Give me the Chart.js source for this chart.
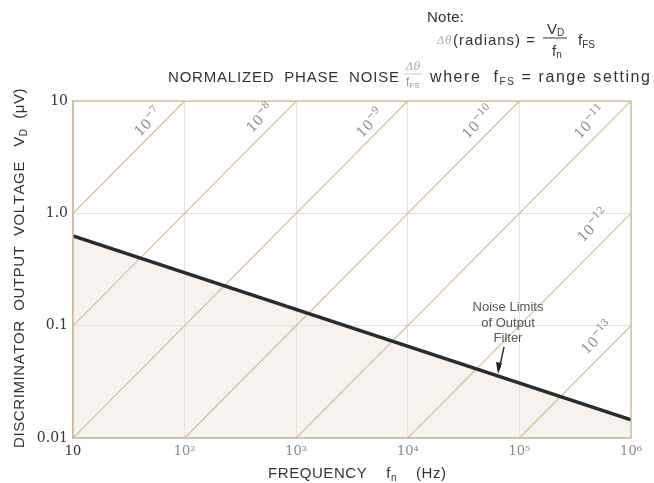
<!DOCTYPE html>
<html>
<head>
<meta charset="utf-8">
<script src="https://cdn.jsdelivr.net/npm/chart.js@4.4.1/dist/chart.umd.min.js"></script>
<style>
html,body{margin:0;padding:0;background:#fff;}
#wrap{width:654px;height:483px;position:relative;}
</style>
</head>
<body>
<div id="wrap"><canvas id="c" width="654" height="483"></canvas></div>
<script>
// ---- data ----
const xTicks = [10, 100, 1000, 10000, 100000, 1000000];
const xTickLabels = ['10', '10²', '10³', '10⁴', '10⁵', '10⁶'];
const yTicks = [0.01, 0.1, 1, 10];
const yTickLabels = ['0.01', '0.1', '1.0', '10'];

// constant normalized phase-noise lines (Δθ/fFS = 10^exp)
const phaseExponents = ['-7', '-8', '-9', '-10', '-11', '-12', '-13'];
const lineStartX = [10, 10, 10, 100, 1000, 10000, 100000];
const lineStartY = [1, 0.1, 0.01, 0.01, 0.01, 0.01, 0.01];
const lineEndX = [100, 1000, 10000, 100000, 1000000, 1000000, 1000000];
const lineEndY = [10, 10, 10, 10, 10, 1, 0.1];
const labelX = [47, 474, 4580, 42600, 429000, 457000, 496000];
const labelY = [6.5, 7.05, 6.36, 6.49, 6.49, 0.78, 0.078];

// noise limits of output filter
const noiseFreq = [10, 1000000];
const noiseVolt = [0.63, 0.0145];

// ---- build datasets ----
const TAN = '#cdbb98';
const datasets = [];
datasets.push({
  label: 'Noise Limits of Output Filter',
  data: noiseFreq.map((f, i) => ({x: f, y: noiseVolt[i]})),
  borderColor: '#2b2b2b',
  borderWidth: 3.4,
  pointRadius: 0,
  fill: 'start',
  backgroundColor: 'rgba(236,229,218,0.45)',
  order: 0
});
phaseExponents.forEach((e, i) => {
  datasets.push({
    label: '10^' + e,
    data: [{x: lineStartX[i], y: lineStartY[i]}, {x: lineEndX[i], y: lineEndY[i]}],
    borderColor: TAN,
    borderWidth: 1.1,
    pointRadius: 0,
    fill: false,
    order: 1
  });
});

// draw rich text segments, spreading characters so the run spans targetW
function drawSegs(ctx, segs, x, y, targetW) {
  let natural = 0, n = 0;
  segs.forEach(s => { ctx.font = s.font; natural += ctx.measureText(s.t).width; n += s.t.length; });
  const extra = targetW ? (targetW - natural) / Math.max(1, n - 1) : 0;
  let cx = x;
  segs.forEach(s => {
    ctx.font = s.font;
    ctx.fillStyle = s.color;
    if (!targetW) {
      ctx.fillText(s.t, cx, y + (s.dy || 0));
      cx += ctx.measureText(s.t).width;
    } else {
      for (const ch of s.t) {
        ctx.fillText(ch, cx, y + (s.dy || 0));
        cx += ctx.measureText(ch).width + extra;
      }
    }
  });
  return cx;
}
function segsWidth(ctx, segs) {
  let w = 0;
  segs.forEach(s => { ctx.font = s.font; w += ctx.measureText(s.t).width; });
  return w;
}

const SANS = '"Liberation Sans", Arial, sans-serif';
const SERIF = '"DejaVu Serif", serif';
const F15 = '15px ' + SANS;
const F16 = '16px ' + SANS;
const S10 = '10px ' + SANS;
const INK = '#333';

const decor = {
  id: 'decor',
  afterDatasetsDraw(chart) {
    const ctx = chart.ctx;
    const xs = chart.scales.x, ys = chart.scales.y;
    const a = chart.chartArea;
    ctx.save();
    // frame
    ctx.strokeStyle = TAN;
    ctx.lineWidth = 1.3;
    ctx.strokeRect(a.left, a.top, a.right - a.left, a.bottom - a.top);

    // diagonal labels
    phaseExponents.forEach((e, i) => {
      const px = xs.getPixelForValue(labelX[i]);
      const py = ys.getPixelForValue(labelY[i]);
      const x0 = xs.getPixelForValue(lineStartX[i]), y0 = ys.getPixelForValue(lineStartY[i]);
      const x1 = xs.getPixelForValue(lineEndX[i]), y1 = ys.getPixelForValue(lineEndY[i]);
      const ang = Math.atan2(y1 - y0, x1 - x0);
      ctx.save();
      ctx.translate(px, py);
      ctx.rotate(ang);
      ctx.textBaseline = 'alphabetic';
      const segs = [
        {t: '10', font: '14px ' + SERIF, color: '#8c8c8c'},
        {t: '−' + e.slice(1), font: '10px ' + SERIF, color: '#8c8c8c', dy: -7}
      ];
      const w = segsWidth(ctx, segs);
      drawSegs(ctx, segs, -w / 2, 5);
      ctx.restore();
    });

    // noise limits annotation
    ctx.fillStyle = '#555';
    ctx.font = '13px ' + SANS;
    ctx.textAlign = 'center';
    ctx.textBaseline = 'middle';
    ctx.fillText('Noise Limits', 508, 307);
    ctx.fillText('of Output', 508, 323);
    ctx.fillText('Filter', 508, 338);
    ctx.strokeStyle = '#333';
    ctx.lineWidth = 1.5;
    ctx.beginPath();
    ctx.moveTo(504, 347);
    ctx.lineTo(499, 370);
    ctx.stroke();
    ctx.fillStyle = '#222';
    ctx.beginPath();
    ctx.moveTo(498, 374);
    ctx.lineTo(496, 362);
    ctx.lineTo(502, 363);
    ctx.closePath();
    ctx.fill();
    ctx.restore();

    // ---- outer texts ----
    ctx.save();
    ctx.textAlign = 'left';
    ctx.textBaseline = 'alphabetic';
    // title
    drawSegs(ctx, [{t: 'NORMALIZED  PHASE  NOISE', font: F15, color: INK}], 168, 82, 231);
    // fraction Δθ / fFS
    ctx.fillStyle = '#aaa';
    ctx.font = 'italic 11px ' + SERIF;
    ctx.textAlign = 'center';
    ctx.fillText('Δθ', 413, 70);
    ctx.strokeStyle = '#bbb';
    ctx.lineWidth = 0.8;
    ctx.beginPath(); ctx.moveTo(404, 74); ctx.lineTo(422, 74); ctx.stroke();
    ctx.textAlign = 'left';
    drawSegs(ctx, [
      {t: 'f', font: '12px ' + SANS, color: '#999'},
      {t: 'FS', font: '8px ' + SANS, color: '#999', dy: 2}
    ], 406, 86);

    // note
    drawSegs(ctx, [{t: 'Note:', font: F15, color: INK}], 427, 22, 37);
    ctx.fillStyle = '#aaa';
    ctx.font = 'italic 11px ' + SERIF;
    ctx.fillText('Δθ', 437, 44);
    drawSegs(ctx, [{t: '(radians) =', font: F15, color: INK}], 453, 45, 82);
    // V_D / f_n
    drawSegs(ctx, [
      {t: 'V', font: F15, color: INK},
      {t: 'D', font: S10, color: INK, dy: 2}
    ], 547, 34);
    ctx.strokeStyle = '#333';
    ctx.lineWidth = 1;
    ctx.beginPath(); ctx.moveTo(543, 38); ctx.lineTo(567, 38); ctx.stroke();
    drawSegs(ctx, [
      {t: 'f', font: F15, color: INK},
      {t: 'n', font: S10, color: INK, dy: 2}
    ], 552, 56);
    drawSegs(ctx, [
      {t: 'f', font: F15, color: INK},
      {t: 'FS', font: S10, color: INK, dy: 3}
    ], 578, 45);
    // where line
    drawSegs(ctx, [
      {t: 'where  f', font: F16, color: INK},
      {t: 'FS', font: S10, color: INK, dy: 3},
      {t: ' = range setting', font: F16, color: INK}
    ], 430, 82, 220);

    // x-axis title
    drawSegs(ctx, [
      {t: 'FREQUENCY    f', font: F15, color: INK},
      {t: 'n', font: S10, color: INK, dy: 3},
      {t: '    (Hz)', font: F15, color: INK}
    ], 268, 478, 178);

    // y-axis title
    ctx.translate(24, 448);
    ctx.rotate(-Math.PI / 2);
    drawSegs(ctx, [
      {t: 'DISCRIMINATOR  OUTPUT  VOLTAGE   V', font: F15, color: INK},
      {t: 'D', font: S10, color: INK, dy: 3},
      {t: '  (μV)', font: F15, color: INK}
    ], 0, 0, 356);
    ctx.restore();
  }
};

new Chart(document.getElementById('c'), {
  type: 'line',
  data: {datasets},
  options: {
    responsive: false,
    animation: false,
    devicePixelRatio: 1,
    layout: {padding: {top: 101, right: 23, left: 0, bottom: 0}},
    plugins: {
      legend: {display: false},
      tooltip: {enabled: false},
      filler: {drawTime: 'beforeDatasetsDraw'}
    },
    scales: {
      x: {
        type: 'logarithmic',
        min: 10, max: 1000000,
        afterBuildTicks: s => { s.ticks = xTicks.map(v => ({value: v})); },
        afterFit: s => { s.height = 45; },
        grid: {color: '#e4e2de', lineWidth: 1, drawTicks: false},
        border: {color: TAN, width: 1.3},
        ticks: {
          padding: 6,
          autoSkip: false,
          maxRotation: 0,
          font: {family: 'DejaVu Serif', size: 13},
          color: ctx => ctx.index === 0 ? '#333' : '#8a8a8a',
          callback: (v, i) => xTickLabels[i]
        }
      },
      y: {
        type: 'logarithmic',
        min: 0.01, max: 10,
        afterBuildTicks: s => { s.ticks = yTicks.map(v => ({value: v})); },
        afterFit: s => { s.width = 73; },
        grid: {color: '#e4e2de', lineWidth: 1, drawTicks: false},
        border: {color: '#c9c2b2', width: 1.3},
        ticks: {
          padding: 5,
          font: {family: 'DejaVu Serif', size: 14},
          color: '#333',
          callback: (v, i) => yTickLabels[i]
        }
      }
    }
  },
  plugins: [decor]
});
</script>
</body>
</html>
